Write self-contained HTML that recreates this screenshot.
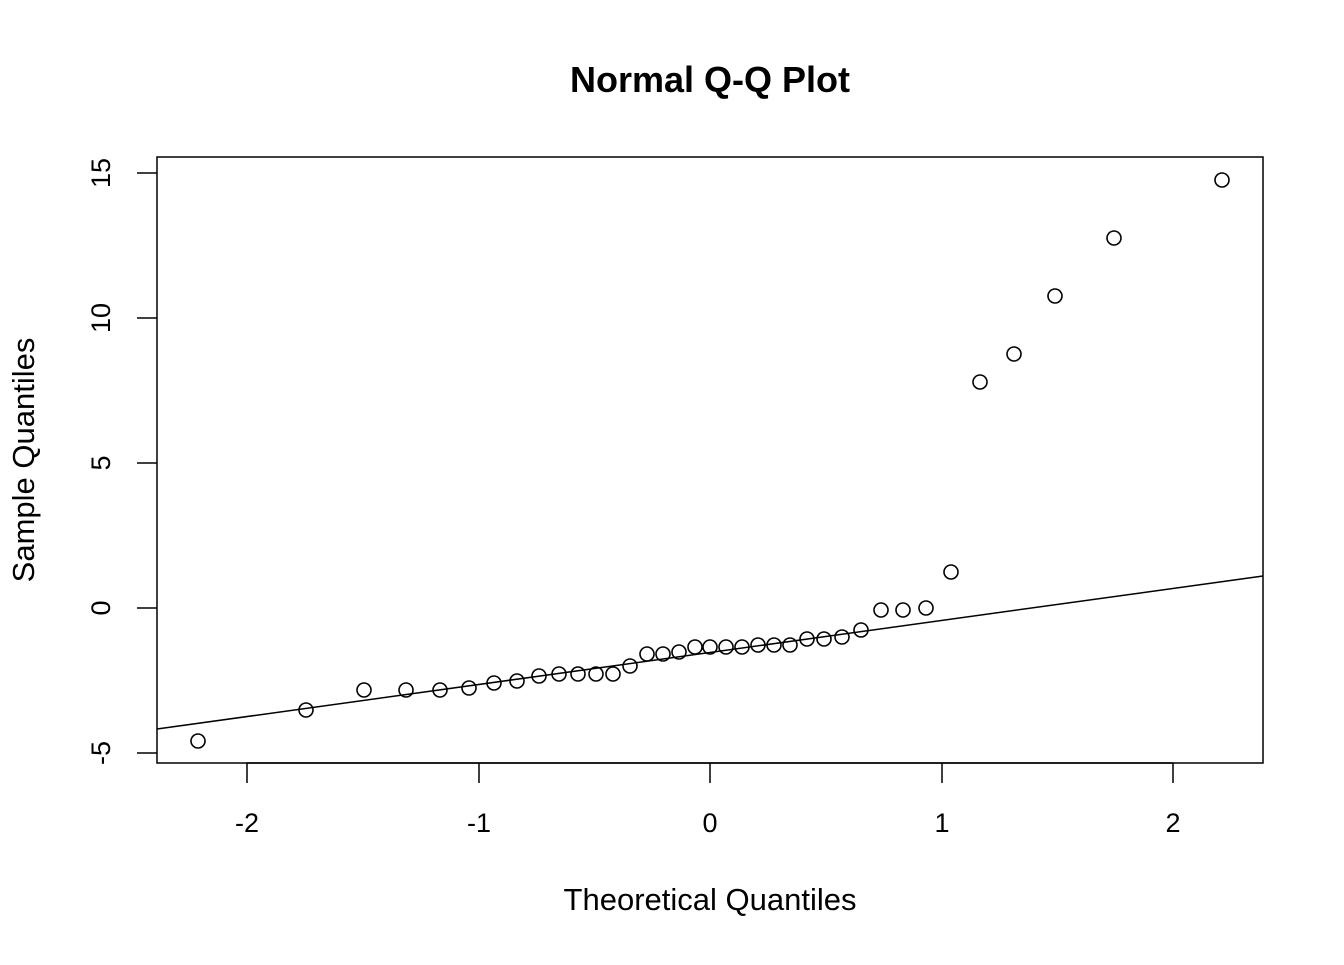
<!DOCTYPE html>
<html><head><style>body{margin:0;background:#fff}</style></head><body>
<svg width="1344" height="960" xmlns="http://www.w3.org/2000/svg" font-family="Liberation Sans, sans-serif">
<rect width="1344" height="960" fill="#fff"/>
<text x="710" y="92" font-size="36" font-weight="bold" text-anchor="middle">Normal Q-Q Plot</text>
<rect x="157" y="157" width="1106" height="606" fill="none" stroke="#000" stroke-width="1.5"/>
<g stroke="#000" stroke-width="1.5">
<line x1="247" y1="763" x2="1173" y2="763"/>
<line x1="247" y1="763" x2="247" y2="783"/><line x1="479" y1="763" x2="479" y2="783"/><line x1="710" y1="763" x2="710" y2="783"/><line x1="942" y1="763" x2="942" y2="783"/><line x1="1173" y1="763" x2="1173" y2="783"/>
<line x1="137" y1="173" x2="157" y2="173"/><line x1="137" y1="318" x2="157" y2="318"/><line x1="137" y1="463" x2="157" y2="463"/><line x1="137" y1="608" x2="157" y2="608"/><line x1="137" y1="753" x2="157" y2="753"/>
<line x1="157" y1="729" x2="1263" y2="576"/>
</g>
<g font-size="27" text-anchor="middle">
<text x="247" y="832">-2</text><text x="479" y="832">-1</text><text x="710" y="832">0</text><text x="942" y="832">1</text><text x="1173" y="832">2</text>
<text transform="translate(110,173) rotate(-90)">15</text>
<text transform="translate(110,318) rotate(-90)">10</text>
<text transform="translate(110,463) rotate(-90)">5</text>
<text transform="translate(110,608) rotate(-90)">0</text>
<text transform="translate(110,753) rotate(-90)">-5</text>
<text x="710" y="910" font-size="31">Theoretical Quantiles</text>
<text transform="translate(34,460) rotate(-90)" font-size="31">Sample Quantiles</text>
</g>
<g fill="none" stroke="#000" stroke-width="1.6">
<circle cx="198" cy="741" r="7"/><circle cx="306" cy="710" r="7"/><circle cx="364" cy="690" r="7"/><circle cx="406" cy="690" r="7"/><circle cx="440" cy="690" r="7"/><circle cx="469" cy="688" r="7"/><circle cx="494" cy="683" r="7"/><circle cx="517" cy="681" r="7"/><circle cx="539" cy="676" r="7"/><circle cx="559" cy="674" r="7"/><circle cx="578" cy="674" r="7"/><circle cx="596" cy="674" r="7"/><circle cx="613" cy="674" r="7"/><circle cx="630" cy="666" r="7"/><circle cx="647" cy="654" r="7"/><circle cx="663" cy="654" r="7"/><circle cx="679" cy="652" r="7"/><circle cx="695" cy="647" r="7"/><circle cx="710" cy="647" r="7"/><circle cx="726" cy="647" r="7"/><circle cx="742" cy="647" r="7"/><circle cx="758" cy="645" r="7"/><circle cx="774" cy="645" r="7"/><circle cx="790" cy="645" r="7"/><circle cx="807" cy="639" r="7"/><circle cx="824" cy="639" r="7"/><circle cx="842" cy="637" r="7"/><circle cx="861" cy="630" r="7"/><circle cx="881" cy="610" r="7"/><circle cx="903" cy="610" r="7"/><circle cx="926" cy="608" r="7"/><circle cx="951" cy="572" r="7"/><circle cx="980" cy="382" r="7"/><circle cx="1014" cy="354" r="7"/><circle cx="1055" cy="296" r="7"/><circle cx="1114" cy="238" r="7"/><circle cx="1222" cy="180" r="7"/>
</g>
</svg>
</body></html>
